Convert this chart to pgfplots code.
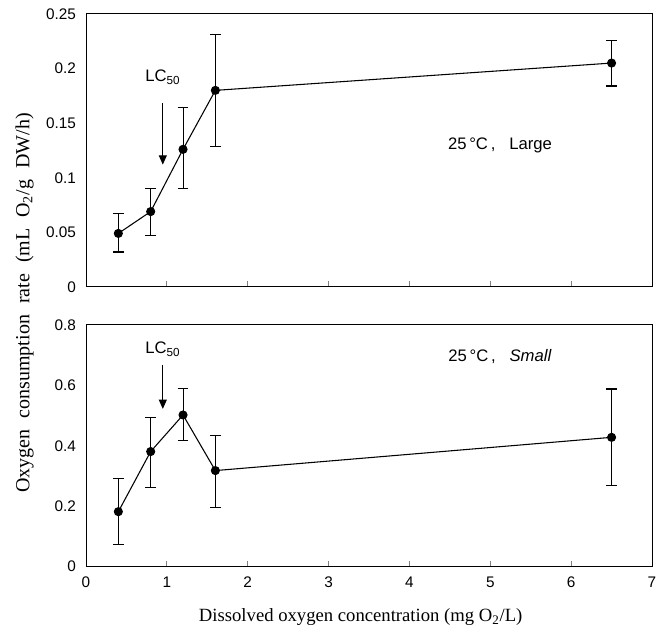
\documentclass[border=0pt]{standalone}
\usepackage{fontspec}
\setmainfont{Liberation Serif}
\newfontfamily\arial{Liberation Sans}
\usepackage{pgfplots}
\pgfplotsset{compat=1.18}
\usetikzlibrary{arrows.meta}

% large animals (top) and small animals (bottom): x, mean, +err, -err
\pgfplotstableread{
x   y      ep     em
0.4 0.049  0.018  0.017
0.8 0.069  0.021  0.022
1.2 0.126  0.038  0.036
1.6 0.180  0.051  0.051
6.5 0.205  0.021  0.021
}\large
\pgfplotstableread{
x   y      ep     em
0.4 0.182  0.111  0.110
0.8 0.381  0.112  0.120
1.2 0.502  0.088  0.083
1.6 0.318  0.115  0.121
6.5 0.428  0.160  0.158
}\small

\newcommand\ws{\hspace{0.55em}}

\begin{document}
\begin{tikzpicture}
\useasboundingbox (-64.5pt,-50.5pt) rectangle (438pt,425pt);
\pgfplotsset{
  panel/.style={
    scale only axis, width=424.5pt,
    xmin=0, xmax=7, xtick={0,...,7},
    xtick pos=left, ytick pos=left,
    ytick style={draw=none},
    major tick length=4.5pt,
    axis line style={line width=0.7pt},
    tick style={line width=0.7pt},
    tick label style={font=\fontsize{11.5}{13}\arial},
    yticklabel style={xshift=-4pt},
  },
  dat/.style={
    black, line width=0.8pt, mark=*, mark size=3pt,
    error bars/.cd, y dir=both, y explicit,
    error mark options={rotate=90, mark size=4pt, line width=0.8pt},
  },
}
\begin{axis}[panel, at={(0,209.8pt)}, anchor=south west, height=204.75pt,
  ymin=0, ymax=0.25, ytick={0,0.05,0.1,0.15,0.2,0.25},
  yticklabels={0,0.05,0.1,0.15,0.2,0.25}, xticklabels={}]
\addplot[dat] table[x=x, y=y, y error plus=ep, y error minus=em] {\large};
\node[font=\fontsize{12.5}{14}\arial] at (axis cs:0.95,0.192) {LC\textsubscript{50}};
\draw[line width=0.8pt, -{Triangle[length=7pt,width=6pt]}] (axis cs:0.95,0.168) -- (axis cs:0.95,0.112);
\node[font=\fontsize{12.5}{14}\arial] at (axis cs:5.12,0.13) {25\,°C\,,\ \ \ Large};
\end{axis}
\begin{axis}[panel, at={(0,0)}, anchor=south west, height=181.3pt,
  ymin=0, ymax=0.8, ytick={0,0.2,0.4,0.6,0.8},
  yticklabels={0,0.2,0.4,0.6,0.8}, xticklabels={0,1,2,3,4,5,6,7},
  xticklabel style={yshift=-4pt}]
\addplot[dat] table[x=x, y=y, y error plus=ep, y error minus=em] {\small};
\node[font=\fontsize{12.5}{14}\arial] at (axis cs:0.95,0.72) {LC\textsubscript{50}};
\draw[line width=0.8pt, -{Triangle[length=7pt,width=6pt]}] (axis cs:0.95,0.668) -- (axis cs:0.95,0.522);
\node[font=\fontsize{12.5}{14}\arial] at (axis cs:5.12,0.695) {25\,°C\,,\ \ \ \textit{Small}};
\end{axis}
\node[rotate=90, font=\fontsize{15}{17}\selectfont] at (-46pt,197.8pt)
  {Oxygen\ws consumption\ws rate\ws (mL\ws O\textsubscript{2}/g\ws DW/h)};
\node[font=\fontsize{14}{16}\selectfont] at (206pt,-37.7pt)
  {Dissolved oxygen concentration (mg O\textsubscript{2}/L)};
\end{tikzpicture}
\end{document}
